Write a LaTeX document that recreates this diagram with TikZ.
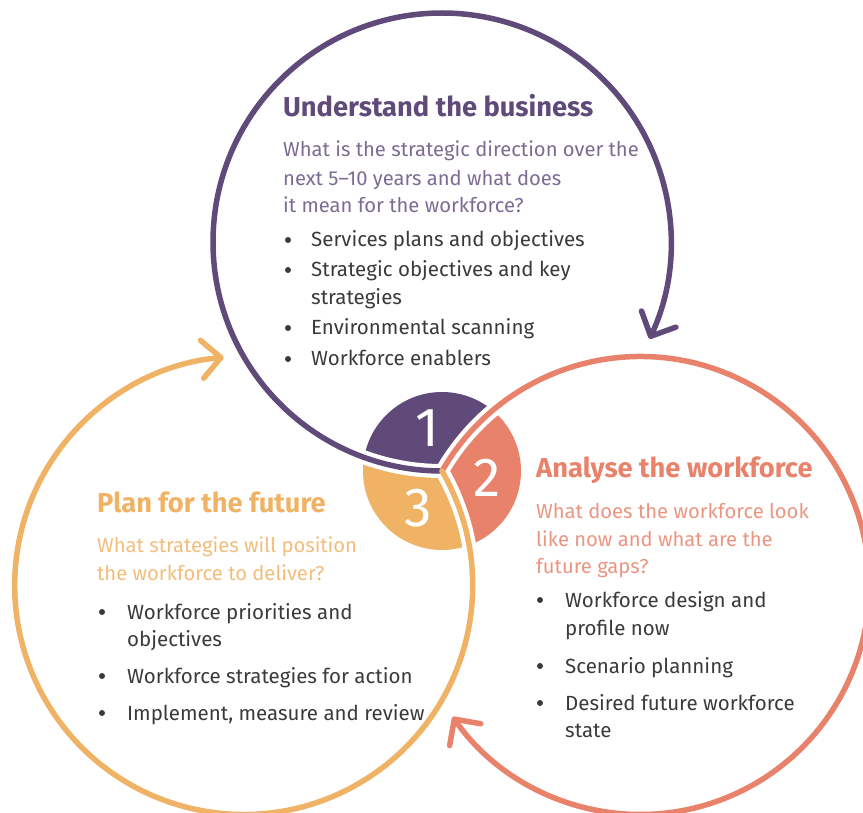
\documentclass[tikz,border=0pt]{standalone}
\usepackage{fontspec}
\setmainfont{Fira Sans}
\usetikzlibrary{arrows.meta}
\definecolor{cPur}{HTML}{5F4A7A}
\definecolor{cCor}{HTML}{E8826B}
\definecolor{cOra}{HTML}{F0B264}
\definecolor{cTxt}{HTML}{3A3A3A}
\colorlet{qPur}{cPur!82!white}
\colorlet{qCor}{cCor!85!white}
\colorlet{qOra}{cOra!85!white}
\begin{document}
\begin{tikzpicture}[x=1pt,y=1pt,
  ring/.style={line width=5.5pt, line cap=round},
  gap/.style={line width=14pt, white},
  tipped/.style={-{Straight Barb[length=19pt,width=38pt,round]}},
  title/.style={anchor=base west, inner sep=0pt, font=\fontsize{27.3}{27}\selectfont\bfseries},
  ques/.style={anchor=base west, inner sep=0pt, font=\fontsize{20.2}{24}\selectfont},
  item/.style={anchor=base west, inner sep=0pt, text=cTxt, font=\fontsize{20.5}{24}\selectfont},
  dot/.style={circle, fill=cTxt, inner sep=0pt, minimum size=6pt},
  num/.style={inner sep=0pt, text=white, font=\fontsize{55}{55}\selectfont}
]
\useasboundingbox (0,0) rectangle (863,-813);
\clip (0,0) rectangle (863,-813);

% centres of the three rings and their common point
\coordinate (J) at (442,-471);
\coordinate (P) at (442,-242);
\coordinate (C) at (640.3,-585.5);
\coordinate (O) at (243.7,-585.5);

% central disc split into three sectors
\begin{scope}
  \clip (J) circle[radius=79];
  \clip (P) circle[radius=229];
  \fill[cPur, even odd rule] (0,0) rectangle (863,-813) (C) circle[radius=229];
\end{scope}
\begin{scope}
  \clip (J) circle[radius=79];
  \clip (C) circle[radius=229];
  \fill[cCor, even odd rule] (0,0) rectangle (863,-813) (O) circle[radius=229];
\end{scope}
\begin{scope}
  \clip (J) circle[radius=79];
  \clip (O) circle[radius=229];
  \fill[cOra, even odd rule] (0,0) rectangle (863,-813) (P) circle[radius=229];
\end{scope}

% white borders along the rings
\draw[gap] (J) arc[start angle=270, end angle=200, radius=229];
\draw[gap] (J) arc[start angle=150, end angle=80, radius=229];
\draw[gap] (J) arc[start angle=30, end angle=-40, radius=229];

% the three rings with their arrows
\draw[ring, cPur, tipped] (J) arc[start angle=270, end angle=-25, radius=229];
\draw[ring, cCor, tipped] (J) arc[start angle=150, end angle=-145, radius=229];
\draw[ring, cOra, tipped] (J) arc[start angle=30, end angle=-265, radius=229];

% step numbers
\node[num] (n1) at (427,-428) {1};
\node[num] (n2) at (487,-478) {2};
\node[num] (n3) at (418,-508) {3};

% step 1
\node[title, text=cPur] (t1) at (283,-117) {Understand the business};
\node[ques, text=qPur] (q1a) at (283,-157) {What is the strategic direction over the};
\node[ques, text=qPur] (q1b) at (283,-186) {next 5–10 years and what does};
\node[ques, text=qPur] (q1c) at (283,-213) {it mean for the workforce?};
\node[dot] (d1a) at (288,-240) {};
\node[item] (i1a) at (311,-247) {Services plans and objectives};
\node[dot] (d1b) at (288,-270) {};
\node[item] (i1b) at (311,-277) {Strategic objectives and key};
\node[item] (i1c) at (311,-305) {strategies};
\node[dot] (d1d) at (288,-328) {};
\node[item] (i1d) at (311,-335) {Environmental scanning};
\node[dot] (d1e) at (288,-359) {};
\node[item] (i1e) at (311,-366) {Workforce enablers};

% step 2
\node[title, text=cCor] (t2) at (536,-477) {Analyse the workforce};
\node[ques, text=qCor] (q2a) at (536,-518) {What does the workforce look};
\node[ques, text=qCor] (q2b) at (536,-546) {like now and what are the};
\node[ques, text=qCor] (q2c) at (536,-573) {future gaps?};
\node[dot] (d2a) at (540,-600) {};
\node[item] (i2a) at (565,-607) {Workforce design and};
\node[item] (i2b) at (565,-635) {profile now};
\node[dot] (d2c) at (540,-666) {};
\node[item] (i2c) at (565,-673) {Scenario planning};
\node[dot] (d2d) at (540,-703) {};
\node[item] (i2d) at (565,-710) {Desired future workforce};
\node[item] (i2e) at (565,-737) {state};

% step 3
\node[title, text=cOra] (t3) at (97,-512) {Plan for the future};
\node[ques, text=qOra] (q3a) at (97,-552) {What strategies will position};
\node[ques, text=qOra] (q3b) at (97,-580) {the workforce to deliver?};
\node[dot] (d3a) at (102,-612) {};
\node[item] (i3a) at (127,-619) {Workforce priorities and};
\node[item] (i3b) at (127,-646) {objectives};
\node[dot] (d3c) at (102,-676) {};
\node[item] (i3c) at (127,-683) {Workforce strategies for action};
\node[dot] (d3d) at (102,-713) {};
\node[item] (i3d) at (127,-720) {Implement, measure and review};
\end{tikzpicture}
\end{document}
